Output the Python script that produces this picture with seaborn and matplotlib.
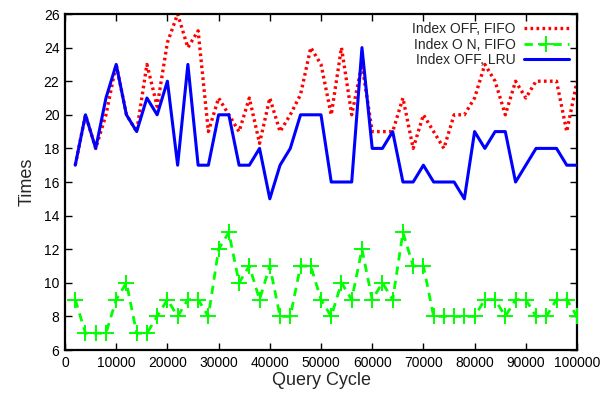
import numpy as np
import pandas as pd
import matplotlib
matplotlib.use("Agg")
import matplotlib.pyplot as plt
import seaborn as sns

query_cycle = list(range(2000, 100001, 2000))

index_off_fifo = [17, 20, 18, 20, 23, 20, 19, 23, 20.5, 24.3,
                  26, 24, 25, 19, 21, 20, 19, 21, 18.3, 21,
                  19, 20, 21.2, 24, 23, 20, 24, 20, 23, 19,
                  19, 19, 21, 18, 20, 19, 18, 20, 20, 21,
                  23, 22, 20, 22, 21, 22, 22, 22, 19, 22]
index_on_fifo = [9, 7, 7, 7, 9, 10, 7, 7, 8, 9,
                 8, 9, 9, 8, 12, 13, 10, 11, 9, 11,
                 8, 8, 11, 11, 9, 8, 10, 9, 12, 9,
                 10, 9, 13, 11, 11, 8, 8, 8, 8, 8,
                 9, 9, 8, 9, 9, 8, 8, 9, 9, 8]
index_off_lru = [17, 20, 18, 21, 23, 20, 19, 21, 20, 22,
                 17, 23, 17, 17, 20, 20, 17, 17, 18, 15,
                 17, 18, 20, 20, 20, 16, 16, 16, 24, 18,
                 18, 19, 16, 16, 17, 16, 16, 16, 15, 19,
                 18, 19, 19, 16, 17, 18, 18, 18, 17, 17]

labels = ["Index OFF, FIFO", "Index O N, FIFO", "Index OFF, LRU"]
x_ticks = list(range(0, 100001, 10000))
y_ticks = list(range(6, 27, 2))

sns.set_theme(style="ticks")
plt.rcParams['font.family'] = ['Liberation Sans', 'DejaVu Sans']

fig = plt.figure(figsize=(6.1, 3.96), dpi=100)
ax = fig.add_axes([65/610, 1-350/396, 512/610, 336/396])

df_red = pd.DataFrame({"x": query_cycle, "y": index_off_fifo})
df_green = pd.DataFrame({"x": query_cycle, "y": index_on_fifo})
df_blue = pd.DataFrame({"x": query_cycle, "y": index_off_lru})

sns.lineplot(data=df_red, x="x", y="y", ax=ax, color="#ff0000", lw=2.4,
             label=labels[0], zorder=2)
ax.lines[-1].set_linestyle((0, (0.8, 1.0)))
sns.lineplot(data=df_green, x="x", y="y", ax=ax, color="#00ff00", lw=2.0,
             marker="+", markersize=11, markeredgewidth=1.4,
             markeredgecolor="#00ff00", markerfacecolor="#00ff00",
             label=labels[1], zorder=3)
ax.lines[-1].set_linestyle((0, (3, 2.2)))
sns.lineplot(data=df_blue, x="x", y="y", ax=ax, color="#0000ff", lw=2.2,
             label=labels[2], zorder=4)

ax.set_xlim(0, 100000)
ax.set_ylim(6, 26)
ax.set_xticks(x_ticks)
ax.set_xticklabels([str(t) for t in x_ticks])
ax.set_yticks(y_ticks)
ax.set_yticklabels([str(t) for t in y_ticks])
ax.tick_params(direction="in", top=True, right=True, length=5, width=1,
               labelsize=10, colors="black", pad=4)
for s in ax.spines.values():
    s.set_linewidth(1.6)
    s.set_color("black")
ax.set_xlabel("Query Cycle", fontsize=13, labelpad=2)
ax.set_ylabel("Times", fontsize=13, labelpad=6)
ax.grid(False)

leg = ax.legend(loc="upper right", frameon=False, markerfirst=False,
                fontsize=10, handlelength=3.2, borderaxespad=0.2,
                labelspacing=0.1, handletextpad=0.6)

fig.savefig("out.png", dpi=100)
